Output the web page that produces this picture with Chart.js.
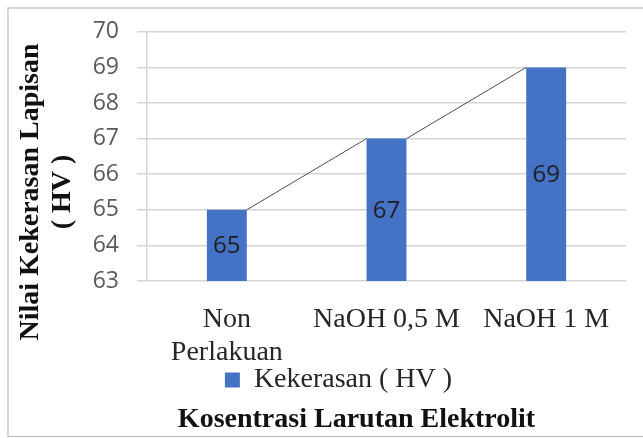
<!DOCTYPE html>
<html>
<head>
<meta charset="utf-8">
<script src="https://cdn.jsdelivr.net/npm/chart.js@4/dist/chart.umd.min.js"></script>
<style>
  html, body { margin: 0; padding: 0; background: #ffffff; }
  #wrap { position: relative; width: 643px; height: 438px; }
</style>
</head>
<body>
<div id="wrap"><canvas id="c" width="643" height="438"></canvas></div>
<script>
// Kekerasan lapisan per konsentrasi larutan elektrolit
const categories = [["Non", "Perlakuan"], "NaOH 0,5 M", "NaOH 1 M"];
const hardness = [65, 67, 69];
const seriesName = "Kekerasan ( HV )";
const yTitleLines = ["Nilai Kekerasan Lapisan", "( HV )"];
const xTitle = "Kosentrasi Larutan Elektrolit";

const SERIF = "'Liberation Serif', 'Times New Roman', serif";
const SANS = "'Open Sans', Lato, sans-serif";

// frame around the figure (left, top and bottom edges)
const framePlugin = {
  id: 'frame',
  beforeDraw(chart) {
    const ctx = chart.ctx;
    ctx.save();
    ctx.strokeStyle = '#c8c8c8';
    ctx.lineWidth = 1.5;
    ctx.beginPath();
    ctx.moveTo(643, 8);
    ctx.lineTo(8, 8);
    ctx.lineTo(8, 436.5);
    ctx.lineTo(643, 436.5);
    ctx.stroke();
    ctx.restore();
  }
};

// tighten the legend and title blocks under the category labels
const blockShiftPlugin = {
  id: 'blockShift',
  afterLayout(chart) {
    const move = (box, dx, dy) => {
      if (!box) return;
      box.left += dx; box.right += dx;
      box.top += dy; box.bottom += dy;
      if (box.legendHitBoxes) box.legendHitBoxes.forEach(b => { b.left += dx; b.top += dy; });
    };
    move(chart.legend, -18, -6);
    move(chart.titleBlock, 0, -4);
  }
};

// series lines joining the top corners of neighbouring bars
const seriesLinesPlugin = {
  id: 'seriesLines',
  afterDatasetsDraw(chart) {
    const bars = chart.getDatasetMeta(0).data;
    const ctx = chart.ctx;
    ctx.save();
    ctx.strokeStyle = '#4d4d4d';
    ctx.lineWidth = 1;
    for (let i = 0; i < bars.length - 1; i++) {
      const a = bars[i], b = bars[i + 1];
      ctx.beginPath();
      ctx.moveTo(a.x + a.width / 2, a.y);
      ctx.lineTo(b.x - b.width / 2, b.y);
      ctx.stroke();
    }
    ctx.restore();
  }
};

// value labels centred inside each bar
const valueLabelPlugin = {
  id: 'valueLabels',
  afterDraw(chart) {
    const meta = chart.getDatasetMeta(0);
    const ds = chart.data.datasets[0];
    const yScale = chart.scales.y;
    const ctx = chart.ctx;
    ctx.save();
    ctx.fillStyle = '#1f1f1f';
    ctx.font = '24px ' + SANS;
    ctx.textAlign = 'center';
    ctx.textBaseline = 'middle';
    meta.data.forEach((bar, i) => {
      const v = ds.data[i];
      const top = yScale.getPixelForValue(v);
      const bottom = yScale.getPixelForValue(yScale.min);
      ctx.fillText(String(v), bar.x, (top + bottom) / 2 + 1);
    });
    ctx.restore();
  }
};

// rotated two-line value-axis title
const yTitlePlugin = {
  id: 'yTitle',
  afterDraw(chart) {
    const ctx = chart.ctx;
    ctx.save();
    ctx.fillStyle = '#111111';
    ctx.font = 'bold 28px ' + SERIF;
    ctx.textAlign = 'center';
    ctx.textBaseline = 'middle';
    const xs = [31, 63];
    yTitleLines.forEach((t, i) => {
      ctx.save();
      ctx.translate(xs[i], 192);
      ctx.rotate(-Math.PI / 2);
      ctx.fillText(t, 0, 0);
      ctx.restore();
    });
    ctx.restore();
  }
};

new Chart(document.getElementById('c'), {
  type: 'bar',
  data: {
    labels: categories,
    datasets: [{
      label: seriesName,
      data: hardness,
      backgroundColor: '#4472C4',
      borderWidth: 0,
      barPercentage: 0.5,
      categoryPercentage: 0.5
    }]
  },
  options: {
    responsive: false,
    animation: false,
    layout: { padding: { left: 87, right: 17, top: 31, bottom: 0 } },
    scales: {
      x: {
        afterFit(scale) { scale.height = 88; },
        grid: { display: false, drawTicks: false },
        border: { display: false },
        ticks: {
          color: '#262626',
          font: { family: SERIF, size: 28, lineHeight: 1.15 },
          padding: 23,
          maxRotation: 0,
          autoSkip: false
        }
      },
      y: {
        min: 63,
        max: 70,
        afterFit(scale) { scale.width = 60; },
        grid: { color: '#d4d4d4', lineWidth: 1.5, tickLength: 10 },
        border: { color: '#d4d4d4', width: 1.5 },
        ticks: {
          stepSize: 1,
          color: '#595959',
          font: { family: SANS, size: 23 },
          padding: 18
        }
      }
    },
    plugins: {
      legend: {
        position: 'bottom',
        labels: {
          color: '#262626',
          font: { family: SERIF, size: 28 },
          boxWidth: 15,
          boxHeight: 15,
          padding: 3
        }
      },
      title: {
        display: true,
        position: 'bottom',
        text: xTitle,
        color: '#111111',
        font: { family: SERIF, size: 28, weight: 'bold', lineHeight: 1.0 },
        padding: 0
      },
      tooltip: { enabled: false }
    }
  },
  plugins: [framePlugin, blockShiftPlugin, seriesLinesPlugin, valueLabelPlugin, yTitlePlugin]
});
</script>
</body>
</html>
